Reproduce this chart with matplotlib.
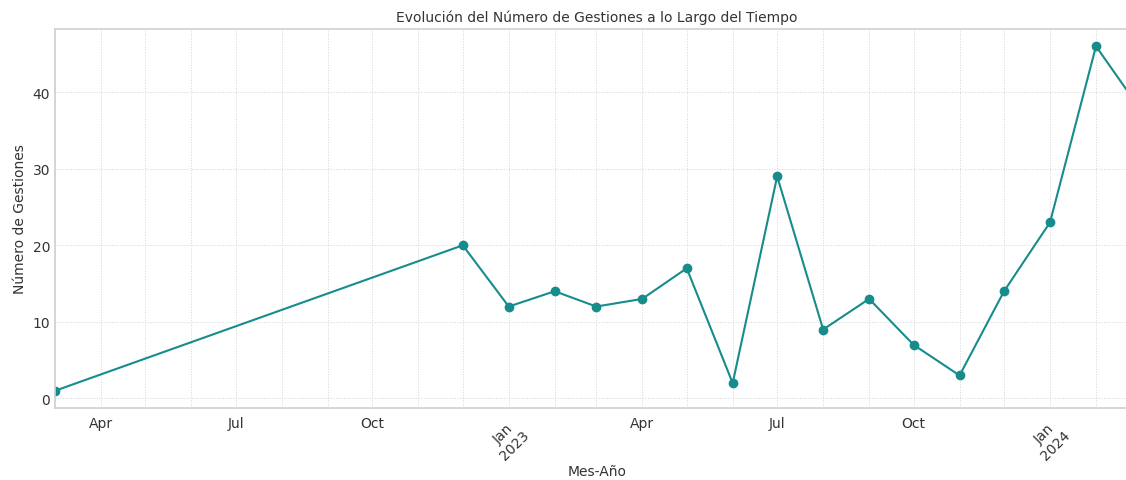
import pandas as pd
import matplotlib
matplotlib.use("Agg")
import matplotlib.pyplot as plt
import matplotlib.dates as mdates
import seaborn as sns

# monthly counts (month start)
months = ["2022-03", "2022-12", "2023-01", "2023-02", "2023-03", "2023-04",
          "2023-05", "2023-06", "2023-07", "2023-08", "2023-09", "2023-10",
          "2023-11", "2023-12", "2024-01", "2024-02", "2024-03"]
gestiones = [1, 20, 12, 14, 12, 13, 17, 2, 29, 9, 13, 7, 3, 14, 23, 46, 38]

dates = pd.to_datetime(months)

sns.set_style("whitegrid")
plt.rcParams['font.family'] = ['DejaVu Sans']

fig = plt.figure(figsize=(11.26, 4.81), dpi=100)
# right edge of the axes falls just outside the picture, as in the reference
ax = fig.add_axes([55 / 1126, 1 - 409 / 481, (1139 - 55) / 1126, (409 - 30) / 481])

ax.plot(dates, gestiones, marker="o", color="#168c8c", linewidth=1.5, markersize=6)
ax.set_xlim(dates[0], dates[-1])
ax.margins(y=0.05)

ax.xaxis.set_major_locator(mdates.MonthLocator(bymonth=1))
ax.xaxis.set_major_formatter(mdates.DateFormatter("%b\n%Y"))
ax.xaxis.set_minor_locator(mdates.MonthLocator())


def minor_fmt(x, pos):
    d = mdates.num2date(x)
    return d.strftime("%b") if d.month in (4, 7, 10) else ""


ax.xaxis.set_minor_formatter(plt.FuncFormatter(minor_fmt))
for lbl in ax.get_xticklabels():
    lbl.set_rotation(45)
    lbl.set_ha("center")
ax.tick_params(axis="x", which="both", labelsize=10, colors="#333333", length=0, pad=6)
ax.tick_params(axis="y", labelsize=10, colors="#333333", length=0)

ax.grid(True, which="both", linestyle=":", color="#d5d5d5", linewidth=0.7)
for side in ["left", "top", "bottom", "right"]:
    ax.spines[side].set_color("#d0d0d0")
    ax.spines[side].set_linewidth(1.2)

ax.set_title("Evolución del Número de Gestiones a lo Largo del Tiempo", fontsize=10, color="#333333", pad=6)
ax.set_xlabel("Mes-Año", fontsize=10, color="#333333", labelpad=1)
ax.set_ylabel("Número de Gestiones", fontsize=10, color="#333333")

fig.savefig("out.png", dpi=100)
